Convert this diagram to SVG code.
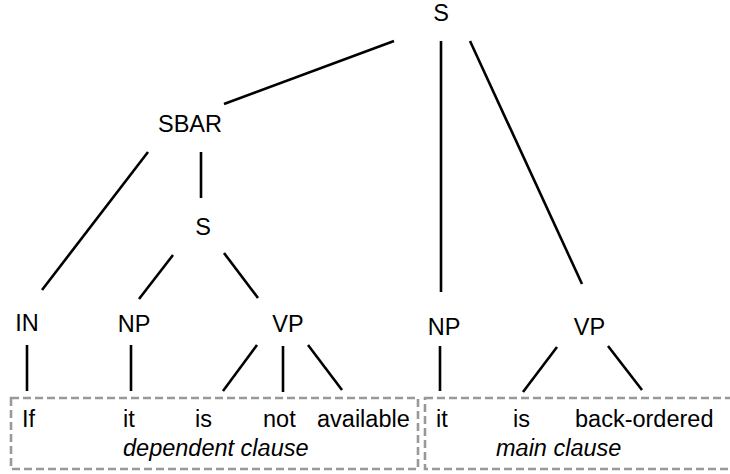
<svg xmlns="http://www.w3.org/2000/svg" width="730" height="474" viewBox="0 0 730 474">
<style>
text{font-family:"Liberation Sans",Arial,sans-serif;font-size:23.5px;fill:#000}
.lbl{text-anchor:middle}
.it{font-style:italic}
.edge{stroke:#000;stroke-width:2.6;fill:none}
.box{stroke:#999;stroke-width:2.6;fill:none;stroke-dasharray:8 4}
</style>
<rect width="730" height="474" fill="#fff"/>
<g id="connectors">
<line class="edge" x1="394" y1="41" x2="224" y2="104"/>
<line class="edge" x1="441" y1="41" x2="441" y2="292"/>
<line class="edge" x1="470" y1="41" x2="582" y2="284"/>
<line class="edge" x1="148" y1="152" x2="42" y2="290"/>
<line class="edge" x1="201" y1="152" x2="201" y2="198"/>
<line class="edge" x1="173" y1="255" x2="139" y2="299"/>
<line class="edge" x1="224" y1="253" x2="258" y2="298"/>
<line class="edge" x1="27" y1="345" x2="27" y2="391"/>
<line class="edge" x1="131" y1="345" x2="131" y2="391"/>
<line class="edge" x1="257" y1="345" x2="223" y2="391"/>
<line class="edge" x1="283" y1="346" x2="283" y2="392"/>
<line class="edge" x1="308" y1="345" x2="342" y2="390"/>
<line class="edge" x1="440" y1="346" x2="440" y2="391"/>
<line class="edge" x1="557" y1="347" x2="523" y2="392"/>
<line class="edge" x1="608" y1="346" x2="642" y2="390"/>
</g>
<g id="node-S-root"><text class="lbl" x="441" y="21">S</text></g>
<g id="node-SBAR"><text class="lbl" x="190" y="132">SBAR</text></g>
<g id="node-S-sub"><text class="lbl" x="203" y="235">S</text></g>
<g id="node-IN"><text class="lbl" x="27" y="331">IN</text></g>
<g id="node-NP1"><text class="lbl" x="134" y="332">NP</text></g>
<g id="node-VP1"><text class="lbl" x="288" y="332">VP</text></g>
<g id="node-NP2"><text class="lbl" x="444" y="335">NP</text></g>
<g id="node-VP2"><text class="lbl" x="589.5" y="335">VP</text></g>
<g id="dependent-clause">
<rect class="box" x="11" y="398" width="407" height="71"/>
<text x="22" y="427">If</text>
<text x="123" y="427">it</text>
<text x="195" y="427">is</text>
<text x="263" y="427">not</text>
<text x="317" y="427">available</text>
<text class="it" x="123" y="456">dependent clause</text>
</g>
<g id="main-clause">
<rect class="box" x="425" y="398" width="320" height="71"/>
<text x="436" y="427">it</text>
<text x="513" y="427">is</text>
<text x="575" y="427">back-ordered</text>
<text class="it" x="496" y="456">main clause</text>
</g>
</svg>
